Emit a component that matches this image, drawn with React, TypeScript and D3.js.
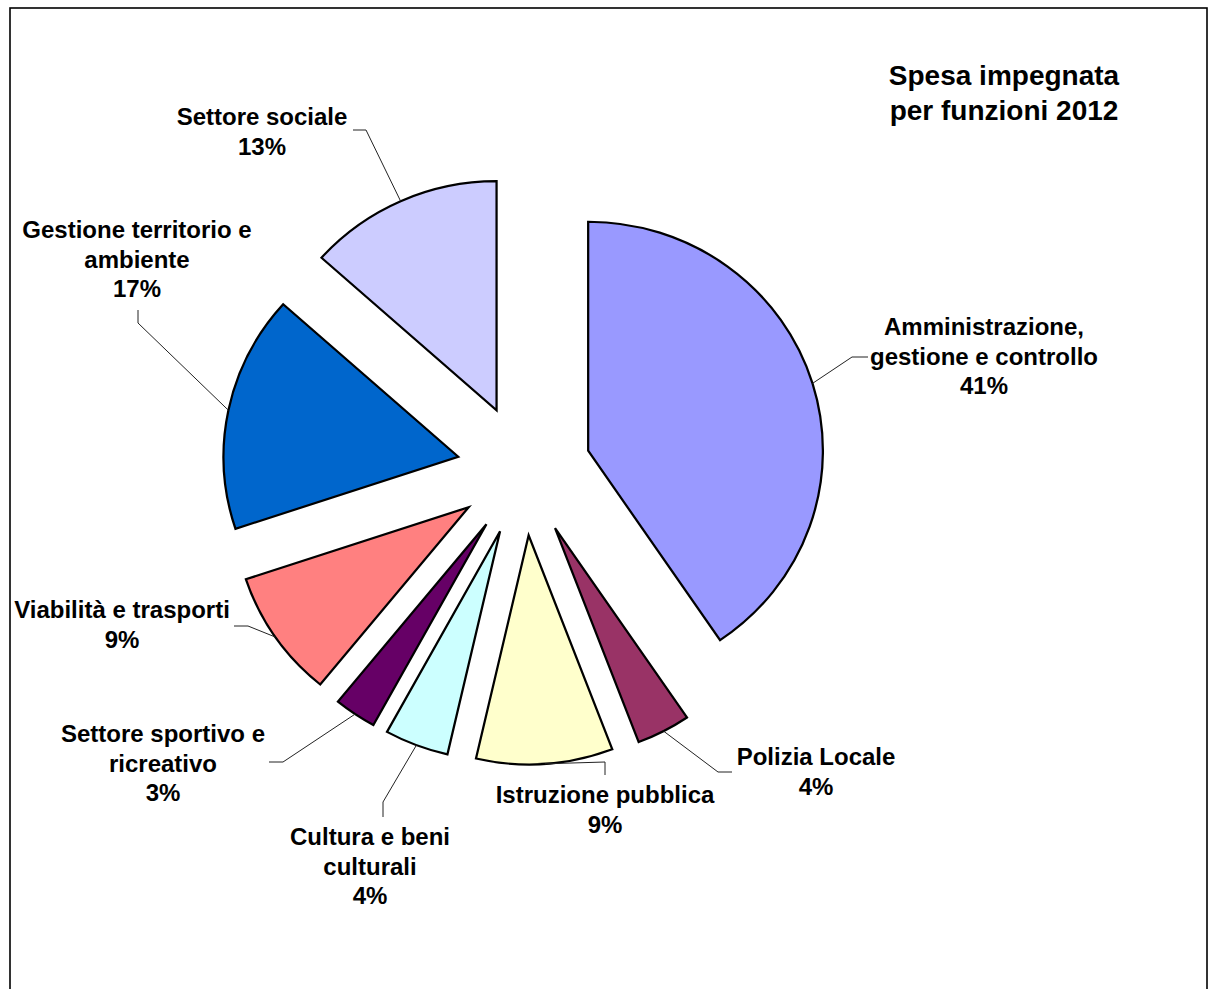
import React from "react";
import * as d3 from "d3";

const categories = [
  "Amministrazione, gestione e controllo",
  "Polizia Locale",
  "Istruzione pubblica",
  "Cultura e beni culturali",
  "Settore sportivo e ricreativo",
  "Viabilità e trasporti",
  "Gestione territorio e ambiente",
  "Settore sociale",
];
const values = [40.5, 3.7, 9.4, 4.4, 2.9, 9.0, 16.7, 13.4];
const colors = ["#9999FF", "#993366", "#FFFFCC", "#CCFFFF", "#660066", "#FF8080", "#0066CC", "#CCCCFF"];
const labelLines = [
  ["Amministrazione,", "gestione e controllo"],
  ["Polizia Locale"],
  ["Istruzione pubblica"],
  ["Cultura e beni", "culturali"],
  ["Settore sportivo e", "ricreativo"],
  ["Viabilità e trasporti"],
  ["Gestione territorio e", "ambiente"],
  ["Settore sociale"],
];
const titleLines = ["Spesa impegnata", "per funzioni 2012"];

// layout: label center x, first baseline y, leader elbow points
const labelLayout = [
  { x: 984, y: 335, pts: [[852, 357], [868, 357]] },
  { x: 816, y: 765, pts: [[718, 772], [732, 772]] },
  { x: 605, y: 803, pts: [[605, 762], [605, 775]] },
  { x: 370, y: 845, pts: [[383, 802], [383, 817]] },
  { x: 163, y: 742, pts: [[283, 762], [269, 762]] },
  { x: 122, y: 618, pts: [[248, 626], [234, 626]] },
  { x: 137, y: 238, pts: [[138, 323], [138, 310]] },
  { x: 262, y: 125, pts: [[366, 130], [353, 130]] },
];

const W = 1212;
const H = 989;
const CX = 524;
const CY = 470;
const R = 229;
const SX = 1.025;
const EXPLODE = 65.5;
const LINE_H = 29.5;
const FONT = "'Liberation Sans', Arial, Helvetica, sans-serif";

export default function App() {
  const total = d3.sum(values);
  const pie = d3.pie<number>().sort(null).value((d) => d).startAngle(0).endAngle(2 * Math.PI);
  const arcs = pie(values);
  const arcGen = d3.arc<d3.PieArcDatum<number>>().innerRadius(0).outerRadius(R);

  return (
    <svg width={W} height={H} style={{ position: "absolute", left: 0, top: 0, background: "#fff" }}>
      <rect x={0} y={0} width={W} height={H} fill="#fff" />
      <rect x={10} y={8} width={1197} height={1000} fill="#fff" stroke="#000" strokeWidth={1.6} />
      <g fontFamily={FONT} fontWeight="bold" fill="#000" textAnchor="middle">
        {titleLines.map((t, i) => (
          <text key={t} x={1004} y={85 + i * 35} fontSize={28}>
            {t}
          </text>
        ))}
      </g>
      <g transform={`translate(${CX},${CY}) scale(${SX},1)`}>
        {arcs.map((a, i) => {
          const mid = (a.startAngle + a.endAngle) / 2;
          const dx = Math.sin(mid) * EXPLODE;
          const dy = -Math.cos(mid) * EXPLODE;
          return (
            <path
              key={categories[i]}
              d={arcGen(a) || ""}
              transform={`translate(${dx},${dy})`}
              fill={colors[i]}
              stroke="#000"
              strokeWidth={2.2}
              strokeLinejoin="miter"
            />
          );
        })}
      </g>
      {arcs.map((a, i) => {
        const mid = (a.startAngle + a.endAngle) / 2;
        const rr = R + EXPLODE;
        const ax = CX + Math.sin(mid) * rr * SX;
        const ay = CY - Math.cos(mid) * rr;
        const pts = [[ax, ay], ...labelLayout[i].pts];
        const line = d3.line()(pts as [number, number][]) || "";
        return <path key={"l" + i} d={line} fill="none" stroke="#222" strokeWidth={1} />;
      })}
      <g fontFamily={FONT} fontWeight="bold" fontSize={24} fill="#000" textAnchor="middle">
        {arcs.map((a, i) => {
          const L = labelLayout[i];
          const pct = Math.round((values[i] / total) * 100 + 1e-6) + "%";
          const lines = [...labelLines[i], pct];
          return (
            <text key={"t" + i}>
              {lines.map((ln, j) => (
                <tspan key={j} x={L.x} y={L.y + j * LINE_H}>
                  {ln}
                </tspan>
              ))}
            </text>
          );
        })}
      </g>
    </svg>
  );
}
